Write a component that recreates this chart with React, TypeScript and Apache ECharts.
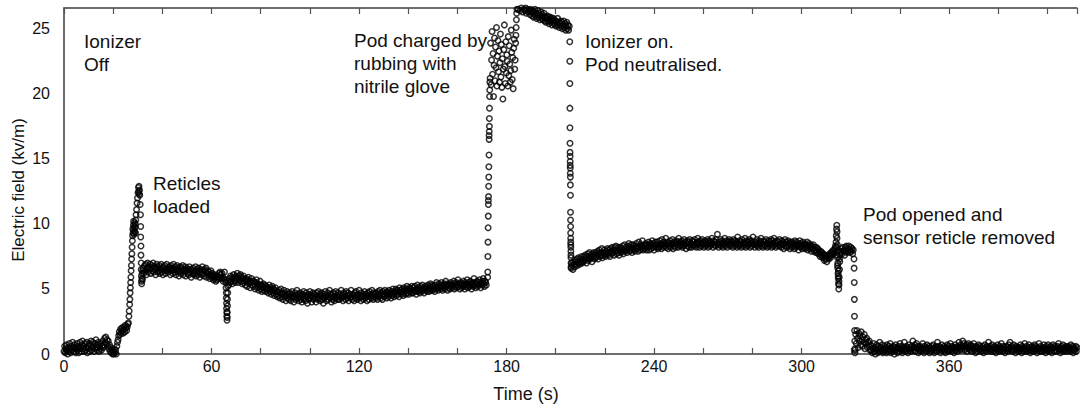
import React, { useEffect, useRef } from "react";
import * as echarts from "echarts";

const FONT = "'Liberation Sans', Arial, sans-serif";

// Axis ranges / tick labels
const X_MAX = 412;
const Y_MAX = 26.6;
const X_LABELS = [0, 60, 120, 180, 240, 300, 360];
const Y_LABELS = [0, 5, 10, 15, 20, 25];

const STEP = 0.25;

const preLoad = [
  0.2, 0.6, 0.1, 0.4, 0.7, 0.3, 0.0, 0.5, 0.2, 0.8, 0.4, 0.1, 0.6, 0.3, 0.9, 0.5, 0.2, 0.7, 0.4, 0.1,
  0.5, 0.8, 0.3, 0.6, 0.1, 0.4, 0.9, 0.5, 0.2, 0.7, 1.0, 0.4, 0.6, 0.2, 0.8, 0.3, 0.5, 0.9, 0.1, 0.6,
  0.4, 0.8, 0.2, 0.7, 1.0, 0.3, 0.5, 0.9, 0.6, 0.2, 0.8, 0.4, 1.1, 0.5, 0.3, 0.7, 0.9, 0.2, 0.6, 0.4,
  0.8, 0.3, 0.6, 1.0, 0.5, 0.7, 1.2, 0.9, 1.3, 0.8, 1.1, 0.6, 1.0, 0.4, 0.7, 0.2, 0.5, 0.1, 0.3, 0.0,
  0.2, 0.0, 0.4, 0.1, 0.3, 0.0, 0.6, 0.9,
];
const shelf = [1.1, 1.4, 1.7, 1.5, 1.9, 1.6, 2.0, 1.8, 1.6, 2.1, 1.9, 1.7, 2.2, 2.0, 1.8, 2.1, 2.3];
const firstPlateau = [
  6.2, 6.8, 6.4, 6.9, 6.1, 6.6, 7.0, 6.3, 6.7, 6.5, 6.9, 6.2, 6.6, 6.8, 6.4, 7.0, 6.3, 6.7, 6.5, 6.1,
  6.6, 6.9, 6.3, 6.7, 6.4, 6.8, 6.2, 6.5, 6.9, 6.3, 6.6, 6.1, 6.7, 6.4, 6.8, 6.2, 6.5, 6.9, 6.4, 6.6,
  6.3, 6.7, 6.5, 6.1, 6.8, 6.4, 6.6, 6.2, 6.9, 6.5, 6.3, 6.7, 6.1, 6.5, 6.8, 6.3, 6.6, 6.0, 6.4, 6.7,
  6.2, 6.6, 6.4, 6.8, 6.1, 6.5, 6.3, 6.7, 6.0, 6.4, 6.6, 6.2, 6.5, 6.1, 6.7, 6.3, 6.5, 5.9, 6.4, 6.2,
  6.6, 6.1, 6.4, 6.2, 6.7, 6.0, 6.5, 6.3, 6.1, 6.6, 6.4, 5.9, 6.3, 6.5, 6.1, 6.7, 6.2, 6.4, 6.0, 6.5,
  6.3, 6.6, 5.9, 6.2, 6.4, 6.0, 6.3, 5.8, 6.1, 6.4, 5.9, 6.2, 6.0, 5.7, 6.1, 5.8, 6.0, 5.6, 5.9, 5.7,
  6.0, 5.8, 6.2, 5.9, 6.3, 6.1, 5.8, 6.2, 5.9, 5.6, 5.8, 6.3, 5.7,
];
const secondPlateau = [
  5.3, 5.8, 5.5, 6.0, 5.6, 5.9, 5.4, 5.8, 6.1, 5.6, 5.9, 5.5, 6.0, 5.7, 6.2, 5.8, 5.5, 6.0, 5.7, 6.1,
  5.6, 5.9, 5.4, 5.8, 6.0, 5.5, 5.7, 5.3, 5.8, 5.6, 5.2, 5.7, 5.9, 5.4, 5.6, 5.1, 5.5, 5.8, 5.3, 5.6,
  5.2, 5.6, 5.4, 5.0, 5.5, 5.7, 5.1, 5.4, 5.2, 4.9, 5.3, 5.6, 5.0, 5.3, 4.8, 5.2, 5.4, 4.9, 5.1, 5.3,
  4.8, 5.2, 4.9, 5.1, 4.7, 5.0, 5.3, 4.8, 5.1, 4.6, 4.9, 5.2, 4.7, 5.0, 4.5, 4.9, 5.1, 4.6, 4.8, 4.4,
  4.8, 4.5, 4.9, 4.3, 4.7, 5.0, 4.4, 4.6, 4.2, 4.7, 4.9, 4.4, 4.6, 4.1, 4.5, 4.8, 4.3, 4.6, 4.2, 4.7,
  4.4, 4.1, 4.6, 4.8, 4.3, 4.5, 4.0, 4.4, 4.7, 4.2, 4.5, 4.9, 4.3, 4.6, 4.1, 4.4, 4.7, 4.2, 4.5, 4.0,
  4.6, 4.3, 4.8, 4.2, 4.5, 4.1, 4.7, 4.4, 3.9, 4.5, 4.2, 4.6, 4.8, 4.3, 4.5, 4.0, 4.4, 4.7, 4.2, 4.6,
  4.3, 4.5, 4.0, 4.7, 4.4, 4.2, 4.8, 4.3, 4.6, 4.1, 4.5, 4.7, 4.2, 4.4, 3.9, 4.6, 4.3, 4.8, 4.4, 4.1,
  4.5, 4.7, 4.2, 4.4, 4.9, 4.3, 4.6, 4.0, 4.5, 4.2, 4.7, 4.4, 4.1, 4.6, 4.8, 4.3, 4.5, 4.2, 4.7, 4.4,
  4.2, 4.6, 4.4, 4.9, 4.3, 4.5, 4.1, 4.7, 4.4, 4.6, 4.2, 4.8, 4.5, 4.3, 4.7, 4.1, 4.5, 4.6, 4.3, 4.9,
  4.4, 4.2, 4.6, 4.5, 4.1, 4.7, 4.3, 4.8, 4.5, 4.2, 4.6, 4.4, 4.9, 4.3, 4.5, 4.1, 4.7, 4.4, 4.6, 4.2,
  4.5, 4.8, 4.3, 4.6, 4.4, 4.1, 4.7, 4.5, 4.2, 4.8, 4.4, 4.6, 4.3, 4.9, 4.5, 4.2, 4.7, 4.4, 4.6, 4.3,
  4.7, 4.5, 4.2, 4.8, 4.4, 4.6, 4.9, 4.3, 4.7, 4.5, 4.2, 4.8, 4.6, 4.4, 4.9, 4.5, 4.7, 4.3, 4.8, 4.6,
  4.4, 4.9, 4.6, 4.7, 4.3, 4.8, 4.5, 5.0, 4.6, 4.4, 4.8, 4.7, 5.0, 4.5, 4.9, 4.6, 4.8, 4.4, 5.1, 4.7,
  4.9, 4.6, 5.0, 4.8, 4.5, 5.1, 4.7, 4.9, 4.6, 5.0, 5.2, 4.7, 4.9, 4.6, 5.1, 4.8, 5.0, 4.7, 5.2, 4.9,
  4.7, 5.1, 4.9, 5.2, 4.8, 4.6, 5.0, 5.3, 4.8, 5.1, 4.9, 4.7, 5.2, 5.0, 4.8, 5.3, 4.9, 5.1, 4.7, 5.0,
  5.2, 4.9, 5.1, 4.8, 5.3, 5.0, 4.8, 5.2, 5.4, 4.9, 5.1, 5.3, 4.9, 5.2, 5.0, 4.8, 5.3, 5.1, 5.5, 5.0,
  5.2, 4.9, 5.4, 5.1, 5.3, 5.0, 5.5, 5.2, 4.9, 5.3, 5.1, 5.4, 5.0, 5.6, 5.2, 5.3, 4.9, 5.4, 5.1, 5.3,
  5.0, 5.5, 5.2, 5.4, 5.1, 5.3, 5.6, 5.0, 5.4, 5.2, 5.5, 5.1, 5.3, 5.7, 5.2, 5.4, 5.0, 5.5, 5.3, 5.1,
  5.4, 5.2, 5.6, 5.3, 5.0, 5.5, 5.2, 5.4, 5.7, 5.1, 5.3, 5.5, 5.2, 5.6, 5.4, 5.0, 5.3, 5.5, 5.2, 5.8,
  5.3, 5.5, 5.1, 5.4, 5.6, 5.2, 5.5, 5.3, 5.7, 5.4, 5.1, 5.5, 5.3, 5.6, 5.8, 5.4, 5.2, 5.6, 5.5, 5.3,
];
const chargedCluster = [
  21.2, 23.9, 20.7, 22.6, 24.8, 21.5, 23.1, 19.8, 22.2, 24.3, 21.0, 23.6, 22.0, 25.1, 20.6, 22.9,
  24.1, 21.7, 23.3, 20.9, 22.4, 24.6, 21.3, 23.8, 20.5, 22.7, 19.6, 21.9, 23.4, 25.3, 22.1, 20.8,
  24.0, 21.6, 23.0, 22.5, 20.6, 24.4, 21.4, 23.7, 22.3, 20.9, 21.8, 24.9, 23.2, 21.1, 22.8, 20.4,
  23.5, 24.2, 21.9, 22.6, 23.9,
];
const topBand = [
  26.9, 26.5, 27.0, 26.7, 26.4, 26.8, 26.6, 27.0, 26.3, 26.7, 26.5, 26.9, 26.4, 26.6, 26.2, 26.8, 26.5, 26.3, 26.7, 26.4,
  26.1, 26.5, 26.3, 26.0, 26.4, 26.2, 25.9, 26.3, 26.5, 26.0, 26.2, 25.8, 26.1, 26.4, 25.9, 26.2, 25.7, 26.0, 26.3, 25.8,
  26.1, 25.7, 25.9, 26.2, 25.6, 25.9, 25.5, 25.8, 26.0, 25.6, 25.9, 25.4, 25.7, 25.9, 25.5, 25.8, 25.3, 25.6, 25.8, 25.4,
  25.7, 25.3, 25.6, 25.2, 25.5, 25.8, 25.3, 25.5, 25.1, 25.4, 25.6, 25.2, 25.5, 25.0, 25.3, 25.6, 25.1, 25.4, 24.9, 25.2,
  25.5, 25.0, 25.3, 24.9, 25.2,
];
const ionPlateau = [
  6.6, 7.0, 6.8, 6.5, 7.1, 6.9, 6.7, 7.2, 6.9, 7.3, 6.8, 7.1, 7.4, 7.0, 6.9, 7.3, 7.1, 7.5, 7.0, 7.3,
  7.1, 7.5, 7.2, 7.6, 7.3, 7.0, 7.5, 7.7, 7.2, 7.4, 7.8, 7.3, 7.6, 7.4, 7.1, 7.7, 7.5, 7.8, 7.3, 7.6,
  7.4, 7.8, 7.5, 7.9, 7.3, 7.7, 8.0, 7.5, 7.8, 7.6, 8.1, 7.4, 7.8, 7.6, 8.0, 7.7, 7.5, 7.9, 7.7, 8.1,
  7.6, 8.0, 7.8, 7.5, 8.1, 7.9, 7.7, 8.2, 7.8, 8.0, 7.6, 8.2, 7.9, 8.3, 7.7, 8.0, 7.8, 8.2, 7.6, 8.0,
  8.2, 7.8, 8.1, 7.9, 8.3, 7.7, 8.0, 8.4, 7.9, 8.2, 8.0, 7.8, 8.3, 8.1, 8.5, 7.9, 8.2, 8.0, 8.4, 7.8,
  8.1, 8.4, 8.0, 8.3, 7.9, 8.2, 8.5, 8.1, 8.3, 7.9, 8.6, 8.2, 8.0, 8.4, 8.1, 8.3, 8.7, 8.0, 8.2, 8.4,
  8.1, 8.5, 8.3, 8.0, 8.4, 8.2, 8.6, 8.0, 8.3, 8.5, 8.1, 8.4, 8.7, 8.2, 8.5, 8.0, 8.3, 8.6, 8.2, 8.4,
  8.6, 8.1, 8.4, 8.2, 8.7, 8.3, 8.5, 8.1, 8.8, 8.4, 8.2, 8.6, 8.3, 8.5, 8.9, 8.2, 8.4, 8.6, 8.1, 8.5,
  8.3, 8.7, 8.2, 8.5, 8.4, 8.8, 8.1, 8.6, 8.3, 8.5, 8.2, 8.7, 8.4, 8.6, 8.2, 8.9, 8.5, 8.3, 8.6, 8.4,
  8.7, 8.2, 8.5, 8.3, 8.8, 8.4, 8.6, 8.1, 8.5, 8.7, 8.3, 8.6, 8.2, 8.8, 8.4, 8.5, 8.2, 8.7, 8.3, 8.6,
  8.4, 8.8, 8.3, 8.5, 8.2, 8.6, 8.9, 8.4, 8.6, 8.2, 8.7, 8.5, 8.3, 8.8, 8.4, 8.6, 8.2, 8.5, 8.7, 8.3,
  8.6, 8.4, 8.8, 8.2, 8.5, 8.7, 8.3, 8.6, 8.4, 8.9, 8.5, 8.2, 8.7, 8.4, 8.6, 8.3, 8.8, 8.5, 9.2, 8.4,
  8.2, 8.6, 8.4, 8.8, 8.3, 8.5, 8.7, 8.2, 8.6, 8.4, 8.9, 8.3, 8.5, 8.7, 8.2, 8.6, 8.4, 8.8, 8.5, 8.3,
  8.7, 8.4, 8.6, 8.2, 8.8, 8.5, 8.3, 8.7, 8.4, 8.6, 8.2, 9.0, 8.5, 8.3, 8.7, 8.4, 8.6, 8.2, 8.8, 8.5,
  8.3, 8.6, 8.4, 8.9, 8.2, 8.5, 8.7, 8.3, 8.6, 8.4, 8.8, 8.2, 8.5, 8.7, 8.3, 8.6, 9.0, 8.4, 8.5, 8.2,
  8.6, 8.4, 8.8, 8.3, 8.5, 8.2, 8.7, 8.4, 8.6, 8.9, 8.3, 8.5, 8.2, 8.7, 8.4, 8.6, 8.3, 8.8, 8.5, 8.2,
  8.5, 8.7, 8.3, 8.6, 8.4, 8.8, 8.2, 8.5, 8.7, 8.3, 8.9, 8.4, 8.6, 8.2, 8.5, 8.7, 8.3, 8.6, 8.4, 8.8,
  8.3, 8.5, 8.2, 8.7, 8.4, 8.6, 8.1, 8.5, 8.8, 8.3, 8.6, 8.2, 8.4, 8.7, 8.3, 8.5, 8.1, 8.6, 8.4, 8.2,
  8.6, 8.3, 8.5, 8.1, 8.7, 8.4, 8.2, 8.6, 8.3, 8.5, 8.0, 8.4, 8.7, 8.2, 8.5, 8.3, 8.1, 8.6, 8.4, 8.2,
  8.5, 8.1, 8.4, 8.2, 8.6, 8.0, 8.3, 8.5, 8.1, 8.4, 8.2, 7.9, 8.3, 8.1, 8.4, 7.9, 8.2, 8.0, 7.8, 8.2,
  7.9, 8.1, 7.7, 8.0, 7.8, 7.5, 7.9, 7.6, 7.8, 7.4, 7.7, 7.5, 7.2, 7.6, 7.3, 7.5, 7.1, 7.4, 7.6, 7.3,
  7.5, 7.7, 7.4, 7.8, 7.6, 7.9, 7.7, 8.0, 7.8, 8.1, 8.3,
];
const preOpen = [
  7.8, 8.1, 7.7, 8.2, 7.9, 8.0, 7.6, 8.2, 7.9, 8.3, 7.8, 8.1, 7.9, 8.3, 8.0, 7.8, 8.2, 7.9, 8.1, 7.7, 8.0,
];
const postOpen = [
  0.3, 1.5, 0.8, 1.8, 1.2, 0.5, 1.6, 1.0, 1.4, 0.7, 1.7, 1.1, 0.6, 1.3, 0.9, 1.5, 0.4, 1.1, 0.8, 1.2,
  0.5, 0.9, 0.6, 1.0, 0.3, 0.7,
];
const residual = [
  0.3, 0.6, 0.1, 0.4, 0.8, 0.2, 0.5, 0.0, 0.4, 0.7, 0.3, 0.1, 0.6, 0.4, 0.9, 0.2, 0.5, 0.3, 0.7, 0.1,
  0.4, 0.2, 0.6, 0.3, 0.5, 0.1, 0.7, 0.4, 0.2, 0.6, 0.3, 0.8, 0.1, 0.5, 0.4, 0.2, 0.6, 0.3, 0.0, 0.5,
  0.7, 0.3, 0.5, 0.1, 0.4, 0.6, 0.2, 0.8, 0.4, 0.3, 0.6, 0.1, 0.5, 0.3, 0.9, 0.4, 0.2, 0.6, 0.3, 0.5,
  0.1, 0.4, 0.7, 0.3, 0.5, 0.2, 0.6, 0.4, 1.0, 0.5, 0.3, 0.7, 0.2, 0.5, 0.8, 0.4, 0.6, 0.1, 0.4, 0.3,
  0.6, 0.2, 0.5, 0.3, 0.8, 0.4, 0.1, 0.6, 0.3, 0.5, 0.2, 0.7, 0.4, 0.3, 0.6, 0.1, 0.5, 0.4, 0.2, 0.6,
  0.3, 0.7, 0.4, 0.1, 0.5, 0.3, 0.6, 0.2, 0.9, 0.5, 0.3, 0.6, 0.4, 0.1, 0.5, 0.7, 0.3, 0.4, 0.2, 0.6,
  0.4, 0.1, 0.5, 0.3, 0.7, 0.2, 0.6, 0.4, 0.3, 0.8, 0.5, 0.2, 0.6, 0.3, 0.4, 0.1, 0.5, 0.7, 0.3, 0.5,
  0.2, 0.6, 0.4, 0.9, 0.5, 0.3, 0.7, 0.4, 0.6, 1.0, 0.5, 0.8, 0.3, 0.6, 0.4, 0.7, 0.2, 0.5, 0.8, 0.4,
  0.6, 0.3, 0.7, 0.5, 0.2, 0.6, 0.4, 0.8, 0.3, 0.5, 0.1, 0.6, 0.4, 0.2, 0.5, 0.7, 0.3, 0.6, 0.4, 0.2,
  0.5, 0.3, 0.6, 0.1, 0.4, 0.7, 0.3, 0.5, 0.2, 0.6, 0.4, 0.9, 0.5, 0.3, 0.6, 0.2, 0.4, 0.7, 0.3, 0.5,
  0.2, 0.6, 0.4, 0.1, 0.5, 0.3, 0.7, 0.4, 0.2, 0.6, 0.3, 0.5, 0.8, 0.4, 0.2, 0.6, 0.3, 0.5, 0.1, 0.4,
  0.6, 0.3, 0.5, 0.2, 0.7, 0.4, 0.9, 0.5, 0.3, 0.6, 0.2, 0.4, 0.7, 0.3, 0.5, 0.1, 0.6, 0.4, 0.3, 0.5,
  0.2, 0.5, 0.3, 0.7, 0.4, 0.1, 0.6, 0.3, 0.5, 0.2, 0.8, 0.4, 0.3, 0.6, 0.2, 0.5, 0.4, 0.7, 0.3, 0.1,
  0.5, 0.3, 0.6, 0.4, 0.2, 0.5, 0.7, 0.3, 0.6, 0.4, 0.1, 0.5, 0.3, 0.8, 0.4, 0.2, 0.6, 0.3, 0.5, 0.2,
  0.4, 0.7, 0.3, 0.5, 0.1, 0.6, 0.4, 0.3, 0.7, 0.2, 0.5, 0.4, 0.6, 0.3, 0.1, 0.5, 0.7, 0.4, 0.2, 0.6,
  0.3, 0.5, 0.2, 0.6, 0.4, 0.8, 0.3, 0.5, 0.1, 0.4, 0.6, 0.3, 0.7, 0.2, 0.5, 0.4, 0.3, 0.6, 0.2, 0.5,
  0.4, 0.6, 0.3, 0.5, 0.2, 0.7, 0.4, 0.3, 0.6, 0.1, 0.5, 0.3, 0.4, 0.6, 0.2, 0.5, 0.3, 0.7, 0.4, 0.3,
];

// Fast transitions: [time s, field kV/m]
const reticleRise = [
  [26.2, 2.4], [26.4, 2.9], [26.5, 3.3], [26.7, 3.8], [26.8, 4.2], [26.9, 4.7], [27.0, 5.1],
  [27.1, 5.5], [27.2, 5.9], [27.3, 6.4], [27.4, 6.8], [27.5, 7.3], [27.6, 7.7], [27.7, 8.2],
  [27.8, 8.7], [27.9, 9.1], [28.0, 9.6], [28.1, 9.3], [28.2, 9.9], [28.3, 10.2], [28.4, 9.5],
  [28.5, 9.2], [28.6, 9.8], [28.7, 10.1], [28.8, 9.4], [28.9, 9.7], [29.0, 10.0], [29.1, 9.3],
  [29.2, 10.3], [29.3, 10.7], [29.5, 11.1], [29.7, 11.6], [29.9, 12.0], [30.1, 12.4],
  [30.3, 12.8], [30.4, 12.5], [30.5, 12.9], [30.6, 12.3], [30.7, 12.6], [30.8, 12.2],
];
const reticleDrop = [
  [31.0, 11.5], [31.1, 10.7], [31.2, 9.8], [31.2, 9.0], [31.3, 8.3], [31.3, 7.6], [31.4, 7.0],
  [31.4, 6.5], [31.5, 6.0], [31.5, 5.6], [31.6, 5.4], [31.7, 5.8], [31.8, 6.2], [31.9, 5.7],
  [32.0, 6.4], [32.2, 6.6],
];
const dipColumn = [
  [65.8, 5.5], [65.9, 5.1], [66.0, 4.7], [66.0, 4.3], [66.1, 3.9], [66.1, 3.5], [66.2, 3.2],
  [66.2, 2.9], [66.3, 2.6], [66.4, 2.8], [66.4, 3.2], [66.5, 3.7], [66.5, 4.2], [66.6, 4.7],
  [66.6, 5.2], [66.7, 5.6],
];
const chargeRise = [
  [172.3, 5.9], [172.35, 6.3], [172.4, 7.5], [172.45, 8.6], [172.5, 9.7], [172.55, 10.6],
  [172.6, 11.5], [172.6, 11.8], [172.65, 12.1], [172.7, 12.9], [172.75, 13.6], [172.8, 14.4],
  [172.85, 15.3], [172.9, 16.5], [172.9, 16.8], [172.95, 17.1], [173.0, 17.5], [173.0, 18.1],
  [173.05, 18.9], [173.1, 19.8], [173.15, 20.3], [173.2, 20.9],
];
const chargeClimb = [[183.8, 24.5], [183.9, 25.1], [184.0, 25.7], [184.1, 26.2], [184.25, 26.5]];
const ionizerDrop = [
  [205.7, 24.0], [205.72, 22.5], [205.74, 20.8], [205.76, 18.9], [205.78, 17.4], [205.8, 16.2],
  [205.82, 15.5], [205.84, 15.2], [205.86, 14.8], [205.88, 14.5], [205.9, 14.3], [205.92, 13.9],
  [205.94, 13.6], [205.96, 13.0], [205.98, 12.2], [206.0, 10.9], [206.02, 10.3], [206.04, 9.8],
  [206.06, 9.3], [206.08, 8.9], [206.1, 8.6], [206.12, 8.4], [206.14, 8.2], [206.16, 7.9],
  [206.18, 7.6], [206.2, 7.4], [206.22, 7.0], [206.24, 6.7],
];
const openSpike = [
  [314.0, 8.6], [314.1, 9.1], [314.2, 9.6], [314.2, 8.2], [314.3, 9.9], [314.3, 7.6], [314.4, 9.4],
  [314.4, 8.9], [314.5, 8.4], [314.5, 7.9], [314.6, 7.4], [314.6, 6.8], [314.7, 7.0], [314.7, 6.6],
  [314.8, 6.2], [314.9, 5.8], [314.9, 6.0], [315.0, 5.4], [315.0, 6.4], [315.1, 5.0], [315.2, 5.3],
  [315.2, 5.6], [315.3, 5.9], [315.4, 6.5], [315.4, 7.3], [315.5, 7.1], [315.6, 7.6], [315.8, 7.9],
];
const openDrop = [
  [321.3, 7.3], [321.35, 6.6], [321.4, 5.5], [321.45, 4.2], [321.5, 2.9], [321.55, 1.8],
  [321.6, 1.0], [321.65, 0.4], [321.7, 0.1],
];

const segments: { start: number; step: number; values: number[] }[] = [
  { start: 0, step: STEP, values: preLoad },
  { start: 22, step: STEP, values: shelf },
  { start: 32.5, step: STEP, values: firstPlateau },
  { start: 67, step: STEP, values: secondPlateau },
  { start: 173.3, step: 0.2, values: chargedCluster },
  { start: 184.5, step: STEP, values: topBand },
  { start: 206.25, step: STEP, values: ionPlateau },
  { start: 316, step: STEP, values: preOpen },
  { start: 321.75, step: STEP, values: postOpen },
  { start: 328.25, step: STEP, values: residual },
];
const columns = [reticleRise, reticleDrop, dipColumn, chargeRise, chargeClimb, ionizerDrop, openSpike, openDrop];

function buildPoints(): number[][] {
  const pts: number[][] = [];
  segments.forEach((s) => s.values.forEach((v, i) => pts.push([s.start + i * s.step, v])));
  columns.forEach((c) => c.forEach((p) => pts.push([p[0], p[1]])));
  return pts;
}

const annotations = [
  { text: "Ionizer\nOff", x: 84, y: 30 },
  { text: "Reticles\nloaded", x: 153, y: 172 },
  { text: "Pod charged by\nrubbing with\nnitrile glove", x: 354, y: 29 },
  { text: "Ionizer on.\nPod neutralised.", x: 585, y: 30 },
  { text: "Pod opened and\nsensor reticle removed", x: 863, y: 203 },
];

export default function App() {
  const ref = useRef<HTMLDivElement>(null);
  useEffect(() => {
    if (!ref.current) return;
    const chart = echarts.init(ref.current, undefined, { renderer: "svg" });
    const axisLine = { show: true, onZero: false, lineStyle: { color: "#3c3c3c", width: 1.5 } };
    const tick = { show: true, inside: true, length: 6, lineStyle: { color: "#555", width: 1.2 } };
    chart.setOption({
      animation: false,
      backgroundColor: "#ffffff",
      textStyle: { fontFamily: FONT },
      grid: { left: 64, right: 0, top: 8, bottom: 53, containLabel: false },
      xAxis: [
        {
          type: "value", min: 0, max: X_MAX, interval: 20, position: "bottom",
          axisLine, axisTick: tick, splitLine: { show: false },
          axisLabel: {
            formatter: (v: number) => (X_LABELS.indexOf(v) >= 0 ? String(v) : ""),
            fontSize: 16, color: "#111", margin: 4, fontFamily: FONT,
          },
        },
        {
          type: "value", min: 0, max: X_MAX, interval: 20, position: "top",
          axisLine, axisTick: tick, splitLine: { show: false }, axisLabel: { show: false },
        },
      ],
      yAxis: {
        type: "value", min: 0, max: Y_MAX, interval: 5,
        axisLine, axisTick: { show: false }, splitLine: { show: false },
        axisLabel: {
          formatter: (v: number) => (Y_LABELS.indexOf(v) >= 0 ? String(v) : ""),
          fontSize: 16, color: "#111", margin: 14, fontFamily: FONT,
        },
      },
      series: [
        {
          type: "scatter",
          data: buildPoints(),
          symbol: "circle",
          symbolSize: 5.5,
          clip: true,
          large: false,
          itemStyle: { color: "rgba(0,0,0,0)", borderColor: "#000000", borderWidth: 1.5 },
          emphasis: { disabled: true },
        },
      ],
      graphic: [
        ...annotations.map((a) => ({
          type: "text", x: a.x, y: a.y,
          style: { text: a.text, fontSize: 19, lineHeight: 23, fill: "#111", fontFamily: FONT },
        })),
        {
          type: "text", x: 526, y: 394,
          style: { text: "Time (s)", fontSize: 18, fill: "#111", fontFamily: FONT, align: "center", verticalAlign: "middle" },
        },
        {
          type: "text", x: 18, y: 190, rotation: Math.PI / 2,
          style: { text: "Electric field (kv/m)", fontSize: 17, fill: "#111", fontFamily: FONT, align: "center", verticalAlign: "middle" },
        },
      ],
    });
    return () => chart.dispose();
  }, []);
  return (
    <div
      ref={ref}
      style={{ position: "fixed", left: 0, top: 0, width: 1080, height: 407, background: "#fff" }}
    />
  );
}
